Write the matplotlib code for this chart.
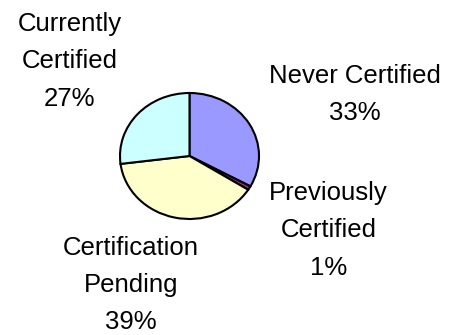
import matplotlib.pyplot as plt

# certification status breakdown
labels = ["Never Certified", "Previously\nCertified", "Certification\nPending", "Currently\nCertified"]
shares = [33, 1, 39, 27]
colors = ["#9999FF", "#993366", "#FFFFCC", "#CCFFFF"]

# where each label sits, in pie data units
label_pos = [(2.38, 0.98), (2.0, -1.18), (-0.84, -2.05), (-1.72, 1.50)]

plt.rcParams['font.family'] = ['Liberation Sans', 'DejaVu Sans']

W, H = 458, 335
fig = plt.figure(figsize=(W / 100, H / 100), dpi=100)
ax = fig.add_axes([120 / W, 1 - 219 / H, 139 / W, 126 / H])

ax.pie(shares, colors=colors, startangle=90, counterclock=False,
       wedgeprops=dict(edgecolor='black', linewidth=1.5))
ax.set_aspect('auto')
ax.set_xlim(-1, 1)
ax.set_ylim(-1, 1)

for name, pct, (x, y) in zip(labels, shares, label_pos):
    ax.text(x, y, f"{name}\n{pct}%", ha='center', va='center',
            fontsize=18.5, linespacing=1.7, clip_on=False)

fig.savefig("out.png", dpi=100)
